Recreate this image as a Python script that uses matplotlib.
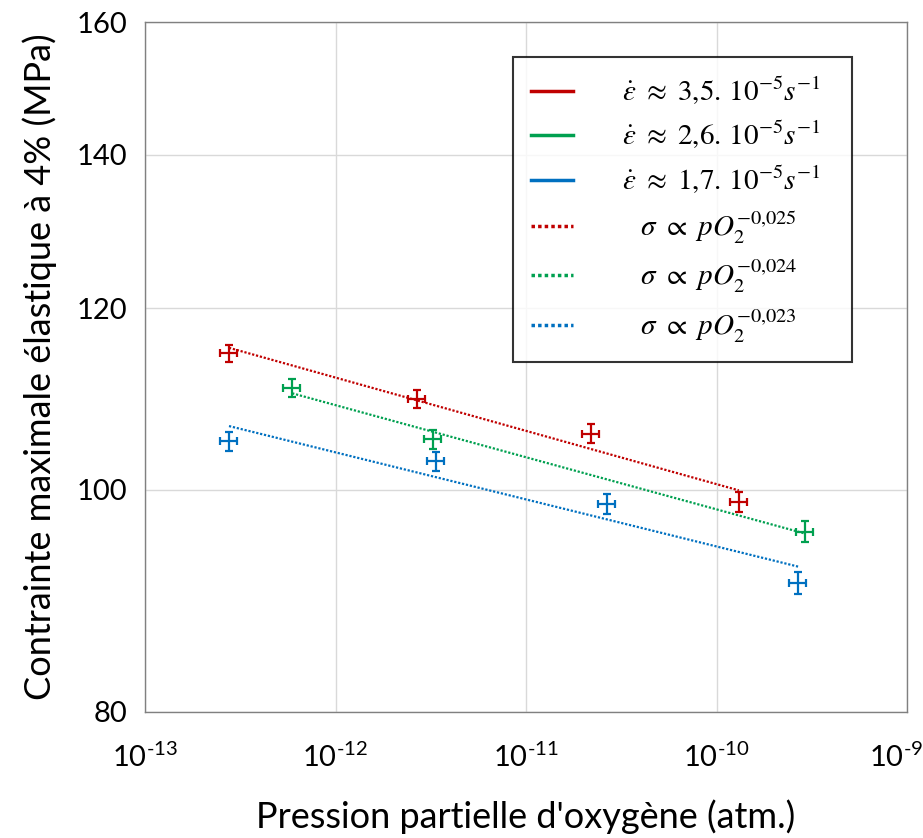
import numpy as np
import matplotlib
matplotlib.use("Agg")
import matplotlib.pyplot as plt
import matplotlib.transforms as mtransforms
from matplotlib.lines import Line2D
from matplotlib.font_manager import FontProperties
from matplotlib.ticker import FixedLocator, FixedFormatter, NullLocator

plt.rcParams['font.family'] = ['Lato', 'DejaVu Sans']
plt.rcParams['mathtext.fontset'] = 'custom'
plt.rcParams['mathtext.rm'] = 'Lato'
plt.rcParams['mathtext.it'] = 'Lato:italic'
plt.rcParams['mathtext.bf'] = 'Lato:bold'

# Data
p_red = [2.76e-13, 2.68e-12, 2.19e-11, 1.31e-10]
s_red = [114.7, 109.6, 105.8, 98.8]
p_green = [5.92e-13, 3.25e-12, 2.92e-10]
s_green = [110.8, 105.2, 95.9]
p_blue = [2.76e-13, 3.37e-12, 2.66e-11, 2.68e-10]
s_blue = [105.0, 102.9, 98.6, 91.1]
x_rel_err = 0.10
y_err = 1.0

labels_rate = [r"$\dot{\varepsilon}\ \approx\ 3{,}5.\,10^{-5}s^{-1}$  ",
               r"$\dot{\varepsilon}\ \approx\ 2{,}6.\,10^{-5}s^{-1}$  ",
               r"$\dot{\varepsilon}\ \approx\ 1{,}7.\,10^{-5}s^{-1}$  "]
labels_fit = [r"  $\sigma\ \propto\ pO_2^{-0{,}025}$",
              r"  $\sigma\ \propto\ pO_2^{-0{,}024}$",
              r"  $\sigma\ \propto\ pO_2^{-0{,}023}$"]
colors = ['#C00000', '#00A050', '#0070C0']

xticks = [1e-13, 1e-12, 1e-11, 1e-10, 1e-9]
xticklabels = [r"$10^{\text{-}13}$", r"$10^{\text{-}12}$", r"$10^{\text{-}11}$",
               r"$10^{\text{-}10}$", r"$10^{\text{-}9}$"]
yticks = [80, 100, 120, 140, 160]
yticklabels = ["80", "100", "120", "140", "160"]

fig = plt.figure(figsize=(9.23, 8.38), dpi=100)
ax = fig.add_axes([0.1571, 0.1504, 0.8256, 0.8233])
ax.set_xscale('log')
ax.set_yscale('log')
ax.set_xlim(1e-13, 1e-9)
ax.set_ylim(80, 160)

series = [(p_red, s_red), (p_green, s_green), (p_blue, s_blue)]
dot_style = (0, (1, 0.8))
for (p, s), c in zip(series, colors):
    p = np.array(p); s = np.array(s)
    ax.errorbar(p, s, xerr=x_rel_err * p, yerr=y_err, fmt='none', ecolor=c,
                elinewidth=1.6, capsize=2.6, capthick=1.6, zorder=3)
    coef = np.polyfit(np.log10(p), np.log10(s), 1)
    xf = np.array([p.min(), p.max()])
    yf = 10 ** np.polyval(coef, np.log10(xf))
    ax.plot(xf, yf, color=c, lw=1.6, linestyle=dot_style, zorder=2)

ax.xaxis.set_major_locator(FixedLocator(xticks))
ax.xaxis.set_minor_locator(NullLocator())
ax.xaxis.set_major_formatter(FixedFormatter(xticklabels))
ax.yaxis.set_major_locator(FixedLocator(yticks))
ax.yaxis.set_minor_locator(NullLocator())
ax.yaxis.set_major_formatter(FixedFormatter(yticklabels))
ax.tick_params(axis='both', length=0, labelsize=21, colors='black')
ax.tick_params(axis='x', pad=22)
ax.tick_params(axis='y', pad=13)
ax.grid(True, color='#D9D9D9', lw=1)
ax.set_axisbelow(True)
for sp in ax.spines.values():
    sp.set_color('#808080')
    sp.set_linewidth(1)

# shift the last x tick label left so it stays inside the figure (as in the reference)
last = ax.get_xticklabels()[-1]
last.set_transform(last.get_transform() +
                   mtransforms.ScaledTranslation(-11 / 100, 0, fig.dpi_scale_trans))

ax.set_xlabel("Pression partielle d'oxygène (atm.)", fontsize=26, labelpad=20)
ax.set_ylabel("Contrainte maximale élastique à 4% (MPa)", fontsize=26, labelpad=14)

handles = [Line2D([], [], color=c, lw=2.5) for c in colors] + \
          [Line2D([], [], color=c, lw=2.5, linestyle=(0, (1, 0.9))) for c in colors]
leg = ax.legend(handles, labels_rate + labels_fit, loc='upper left',
                bbox_to_anchor=(0.483, 0.949), frameon=True, fancybox=False,
                prop=FontProperties(family='DejaVu Serif', size=21, math_fontfamily='stix'),
                handlelength=1.45, handletextpad=1.7, labelspacing=0.42,
                borderpad=0.6, borderaxespad=0)
leg.get_frame().set_edgecolor('black')
leg.get_frame().set_linewidth(1.5)

fig.savefig('out.png', dpi=100)
